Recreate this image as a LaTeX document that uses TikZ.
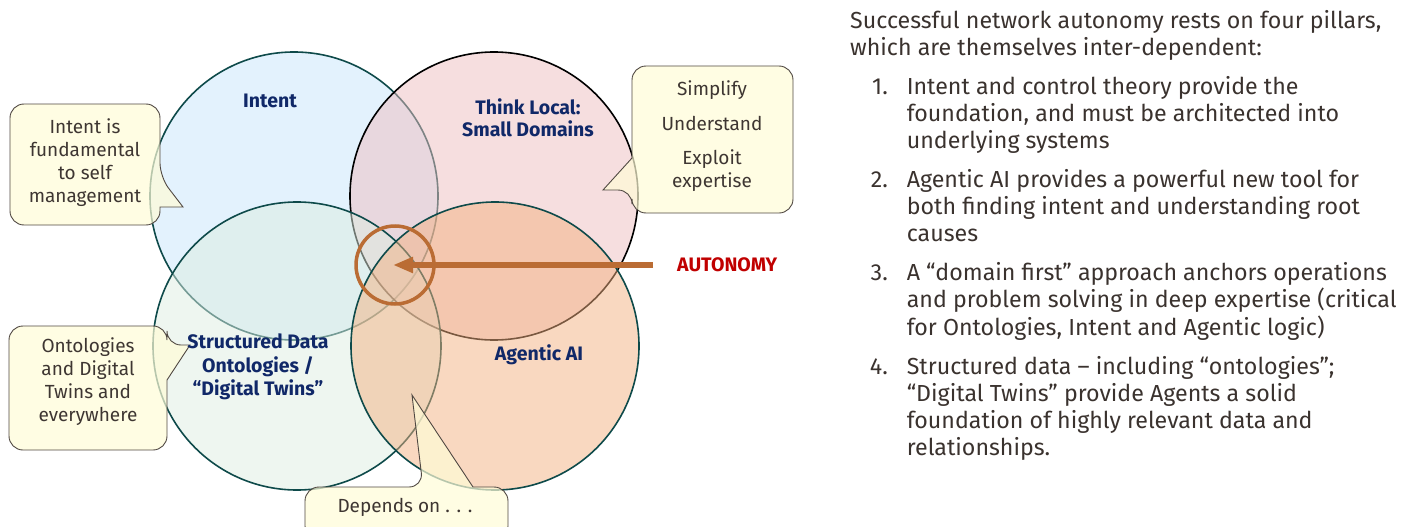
\documentclass[tikz,border=0pt]{standalone}
\usepackage{fontspec}
\setmainfont{Fira Sans}
\usetikzlibrary{arrows.meta, positioning}

\definecolor{intentfill}{RGB}{199,229,251}
\definecolor{localfill}{RGB}{237,189,191}
\definecolor{datafill}{RGB}{221,237,225}
\definecolor{agentfill}{RGB}{243,177,129}
\definecolor{rimteal}{RGB}{14,74,74}
\definecolor{pillarblue}{RGB}{16,40,104}
\definecolor{notefill}{RGB}{255,252,215}
\definecolor{noteline}{RGB}{80,72,66}
\definecolor{notetext}{RGB}{62,54,50}
\definecolor{autobrown}{RGB}{186,108,52}
\definecolor{autored}{RGB}{192,0,0}
\definecolor{bodygray}{RGB}{58,50,46}

\tikzset{
  pillar/.style={circle, minimum size=288pt, inner sep=0pt, draw=rimteal,
    line width=1.6pt, fill opacity=0.5},
  pillarlabel/.style={text=pillarblue, align=center,
    font=\fontsize{19.5}{22}\selectfont\bfseries},
  note/.style={draw=noteline, line width=0.9pt, fill=notefill, fill opacity=0.7},
  notetxt/.style={text=notetext, align=center, font=\fontsize{19}{23}\selectfont},
  bodytext/.style={text=bodygray, inner sep=0pt, font=\fontsize{23.2}{27}\selectfont}
}

\begin{document}
\begin{tikzpicture}[x=1pt, y=-1pt, >=Triangle]
\clip (0,0) rectangle (1421,527);

% the four pillars
\node[pillar, fill=intentfill] (intent) at (294,196) {};
\node[pillar, fill=localfill, draw=black] (local) at (494,196) {};
\node[pillar, fill=datafill] (data) at (297,346) {};
\node[pillar, fill=agentfill] (agent) at (495,346) {};

% callouts
\draw[note] (10,160) [rounded corners=14pt] -- (10,104) -- (160,104) -- (160,177)
  [sharp corners] -- (183,207) -- (160,207) [rounded corners=14pt] -- (160,225) -- (10,225) -- (10,160);
\draw[note] (712,66) [rounded corners=14pt] -- (793,66) -- (793,213) -- (632,213) -- (632,190)
  [sharp corners] -- (603,190) -- (632,158) [rounded corners=14pt] -- (632,66) -- (712,66);
\draw[note] (88,450) [rounded corners=14pt] -- (9,450) -- (9,326) -- (167,326) -- (167,345)
  [sharp corners] -- (190,345) -- (167,380) [rounded corners=14pt] -- (167,450) -- (88,450);
\draw[note] (405,540) [rounded corners=14pt] -- (305,540) -- (305,487) -- (423,487)
  [sharp corners] -- (412,395) -- (473,487) [rounded corners=14pt] -- (508,487) -- (508,540) -- (405,540);

\node[notetxt] (selfmgmt) at (85,163) {Intent is\\fundamental\\to self\\management};
\node[notetxt] (simplify) at (712,136) {Simplify\\[12pt]Understand\\[11pt]Exploit\\expertise};
\node[notetxt] (twins) at (88,382) {Ontologies\\and Digital\\Twins and\\everywhere};
\node[notetxt] (depends) at (405,507) {Depends on . . .};

% pillar names
\node[pillarlabel] (intentlbl) at (270,101) {Intent};
\node[pillarlabel] (locallbl) at (528,118) {Think Local:\\Small Domains};
\node[pillarlabel, font=\fontsize{19.5}{23.5}\selectfont\bfseries] (datalbl) at (258,367)
  {Structured Data\\Ontologies /\\“Digital Twins”};
\node[pillarlabel] (agentlbl) at (539,355) {Agentic AI};

% autonomy in the middle
\node[circle, draw=autobrown, line width=3.5pt, minimum size=78pt, inner sep=0pt] (hub) at (395,265) {};
\node[text=autored, font=\fontsize{19.5}{22}\selectfont\bfseries, anchor=west, inner sep=0pt] (autonomy) at (677,265) {AUTONOMY};
\draw[->, autobrown, line width=6pt, shorten <=24pt, shorten >=-2pt,
  arrows={-Triangle[length=20pt,width=15pt]}] (autonomy.west) -- (hub.center);

% the four pillars, spelled out
\node[bodytext, anchor=north west] (pillars) at (850,9) {%
\begin{tabular}{@{}r@{\hspace{19pt}}l@{}}
\multicolumn{2}{@{}l@{}}{Successful network autonomy rests on four pillars,}\\
\multicolumn{2}{@{}l@{}}{which are themselves inter-dependent:}\\[12pt]
\hspace{22pt}1. & Intent and control theory provide the\\
 & foundation, and must be architected into\\
 & underlying systems\\[12pt]
2. & Agentic AI provides a powerful new tool for\\
 & both finding intent and understanding root\\
 & causes\\[12pt]
3. & A “domain first” approach anchors operations\\
 & and problem solving in deep expertise (critical\\
 & for Ontologies, Intent and Agentic logic)\\[12pt]
4. & Structured data – including “ontologies”;\\
 & “Digital Twins” provide Agents a solid\\
 & foundation of highly relevant data and\\
 & relationships.
\end{tabular}};

\end{tikzpicture}
\end{document}
